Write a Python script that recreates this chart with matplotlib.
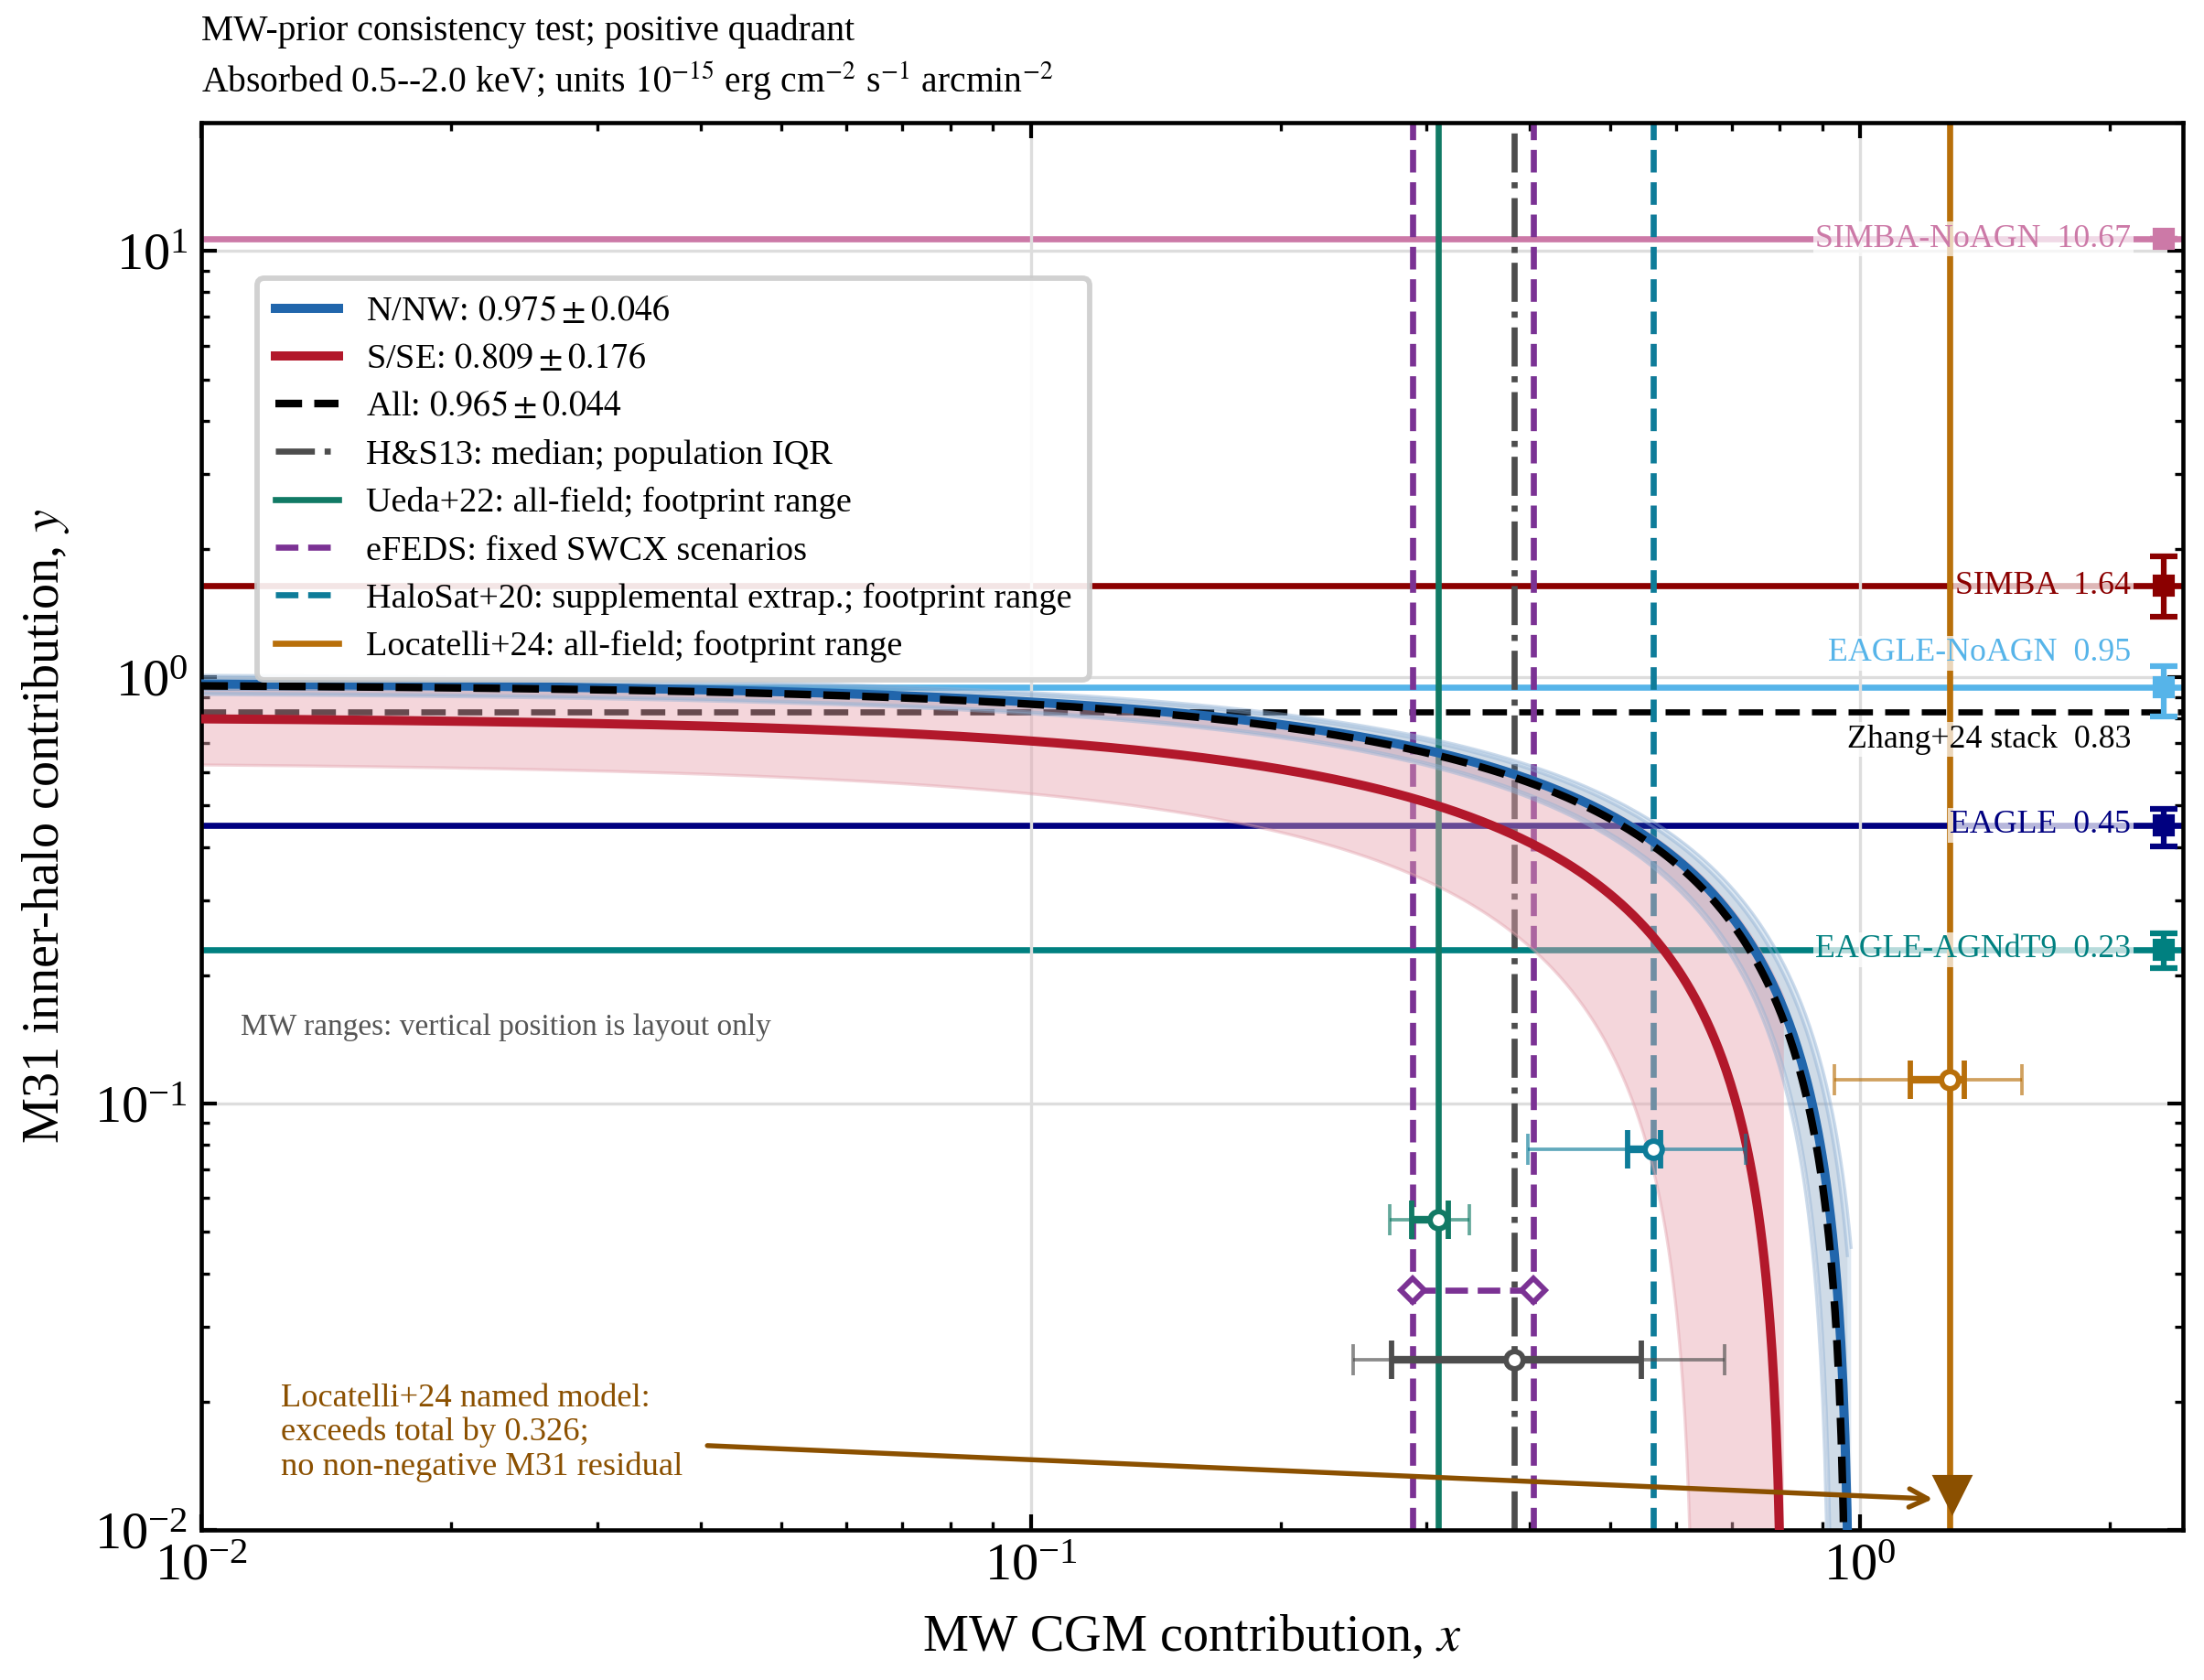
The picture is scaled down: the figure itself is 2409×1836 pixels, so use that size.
import numpy as np
import matplotlib
matplotlib.use("Agg")
import matplotlib.pyplot as plt

plt.rcParams['font.family'] = ['Liberation Serif', 'DejaVu Serif']
plt.rcParams['mathtext.fontset'] = 'stix'

# ---------------- data ----------------
# region totals (x + y = total), with 1-sigma
region_names = ['N/NW', 'S/SE', 'All']
region_total = [0.975, 0.809, 0.965]
region_sigma = [0.046, 0.176, 0.044]

# simulation predictions for the M31 inner halo (horizontal lines)
sim_names = ['SIMBA-NoAGN', 'SIMBA', 'EAGLE-NoAGN', 'Zhang+24 stack', 'EAGLE', 'EAGLE-AGNdT9']
sim_value = [10.67, 1.64, 0.95, 0.83, 0.45, 0.23]
sim_err_lo = [0.0, 0.25, 0.14, 0.0, 0.048, 0.022]
sim_err_hi = [0.0, 0.28, 0.11, 0.0, 0.042, 0.021]

# MW CGM priors: centre, inner range, outer range, plotting row
hs13_x, hs13_in, hs13_out, hs13_row = 0.383, (0.272, 0.545), (0.245, 0.687), 0.0251
ueda_x, ueda_in, ueda_out, ueda_row = 0.310, (0.288, 0.319), (0.271, 0.338), 0.0534
efeds_x, efeds_row = [0.289, 0.404], 0.0366
halosat_x, halosat_in, halosat_out, halosat_row = 0.563, (0.524, 0.574), (0.398, 0.727), 0.0782
locatelli_x, locatelli_in, locatelli_out, locatelli_row = 1.282, (1.15, 1.335), (0.93, 1.568), 0.114
locatelli_named = 1.29
locatelli_excess = 0.326

# ---------------- styles ----------------
region_colors = ['#2166ac', '#b2182b', 'black']
sim_colors = ['#cc79a7', '#8b0000', '#56b4e9', 'black', '#000080', '#008080']
label_shift = [1.0, 1.0, 1.2, 0.86, 1.0, 1.0]
c_hs, c_ueda, c_efeds, c_halo, c_loc = '#4d4d4d', '#117a65', '#7b3294', '#0e7c99', '#b86f0a'
c_note = '#8b5000'

fig = plt.figure(figsize=(2409 / 300, 1836 / 300), dpi=300)
ax = fig.add_axes([0.0913, 0.0893, 0.8992, 0.8377])
ax.set_xscale('log')
ax.set_yscale('log')
ax.set_xlim(0.01, 2.45)
ax.set_ylim(0.01, 20)

# --- simulation lines ---
x_mark = 2.32
x_lab = 2.12
for name, v, lo, hi, c, sh in zip(sim_names, sim_value, sim_err_lo, sim_err_hi, sim_colors, label_shift):
    if name.startswith('Zhang'):
        ax.axhline(v, color=c, lw=1.6, ls=(0, (4, 2)), zorder=1.6)
    else:
        ax.axhline(v, color=c, lw=1.6, zorder=1.5)
        ax.errorbar([x_mark], [v], yerr=[[lo], [hi]], fmt='s', color=c, ms=5,
                    capsize=3.5, elinewidth=1.5, capthick=1.5, zorder=3.5)
    ax.text(x_lab, v * sh, f'{name}  {v:.2f}', color=c, fontsize=8.6,
            ha='right', va='center', zorder=4,
            bbox=dict(facecolor='white', edgecolor='none', alpha=0.72, pad=0.6))

# --- region curves y = total - x ---
band_face = ['#2166ac', '#e7a5b0', '#5a6f8c']
band_alpha = [0.15, 0.45, 0.10]
band_edge = ['#8fb0d4', '#e3a3ae', '#8fb0d4']
lines = []
for name, T, s, c, fc, fa, ec in zip(region_names, region_total, region_sigma, region_colors,
                                     band_face, band_alpha, band_edge):
    xg = np.geomspace(0.01, T * 0.99999, 800)
    lo_edge = T - s - xg
    lower = np.clip(lo_edge, 1e-6, None)
    upper = T + s - xg
    ax.fill_between(xg, lower, upper, color=fc, alpha=fa, lw=0, zorder=2.2)
    ax.plot(xg, upper, color=ec, lw=0.8, alpha=0.45, zorder=2.3)
    ax.plot(xg[lo_edge > 0], lo_edge[lo_edge > 0], color=ec, lw=0.8, alpha=0.45, zorder=2.3)
    if name == 'All':
        ln, = ax.plot(xg, T - xg, color=c, lw=2.0, ls=(0, (3.5, 1.6)), zorder=3.2,
                      label=f'{name}: ${T:.3f}\\pm{s:.3f}$')
    else:
        ln, = ax.plot(xg, T - xg, color=c, lw=2.4, zorder=3.1,
                      label=f'{name}: ${T:.3f}\\pm{s:.3f}$')
    lines.append(ln)

# --- MW prior vertical lines and range markers ---
h1 = ax.axvline(hs13_x, color=c_hs, lw=1.6, ls='-.', zorder=2, label='H&S13: median; population IQR')
h2 = ax.axvline(ueda_x, color=c_ueda, lw=1.6, zorder=2, label='Ueda+22: all-field; footprint range')
h3 = ax.axvline(efeds_x[0], color=c_efeds, lw=1.6, ls='--', zorder=2, label='eFEDS: fixed SWCX scenarios')
ax.axvline(efeds_x[1], color=c_efeds, lw=1.6, ls='--', zorder=2)
h4 = ax.axvline(halosat_x, color=c_halo, lw=1.6, ls='--', zorder=2,
                label='HaloSat+20: supplemental extrap.; footprint range')
h5 = ax.axvline(locatelli_x, color=c_loc, lw=1.6, zorder=2, label='Locatelli+24: all-field; footprint range')

for xc, rin, rout, row, c in [(hs13_x, hs13_in, hs13_out, hs13_row, c_hs),
                              (ueda_x, ueda_in, ueda_out, ueda_row, c_ueda),
                              (halosat_x, halosat_in, halosat_out, halosat_row, c_halo),
                              (locatelli_x, locatelli_in, locatelli_out, locatelli_row, c_loc)]:
    ax.errorbar([xc], [row], xerr=[[xc - rout[0]], [rout[1] - xc]], fmt='none', ecolor=c,
                alpha=0.65, elinewidth=0.9, capsize=4, capthick=0.9, zorder=3.3)
    ax.errorbar([xc], [row], xerr=[[xc - rin[0]], [rin[1] - xc]], fmt='o', color=c, mfc='white',
                mec=c, mew=1.4, ms=4.5, elinewidth=2.0, capsize=5, capthick=1.4, zorder=3.4)

ax.plot(efeds_x, [efeds_row] * 2, color=c_efeds, lw=1.6, ls='--', marker='D', ms=4.5,
        mfc='white', mec=c_efeds, mew=1.4, zorder=3.4)

# Locatelli named model: off the total
ax.plot([locatelli_named], [0.0121], marker='v', color=c_note, ms=9, zorder=3.6)
ax.annotate('', xy=(1.25, 0.0118), xytext=(0.0399, 0.0158),
            arrowprops=dict(arrowstyle='->', color=c_note, lw=1.3, mutation_scale=12), zorder=3.6)
ax.text(0.01249, 0.0169,
        f'Locatelli+24 named model:\nexceeds total by {locatelli_excess:.3f};\nno non-negative M31 residual',
        color=c_note, fontsize=8.75, ha='left', va='center', linespacing=1.17)

ax.text(0.02, 0.357, 'MW ranges: vertical position is layout only', transform=ax.transAxes,
        color='#555555', fontsize=8.0, ha='left', va='center')

# --- axes cosmetics ---
ax.grid(True, which='major', color='#dddddd', lw=0.8, zorder=0)
ax.tick_params(which='both', direction='in', top=True, right=True, labelsize=14)
ax.tick_params(which='major', length=4, width=1.0)
ax.tick_params(which='minor', length=2.2, width=0.8)
for sp in ax.spines.values():
    sp.set_linewidth(1.1)

ax.set_xlabel('MW CGM contribution, $x$', fontsize=13.5, labelpad=6)
ax.set_ylabel('M31 inner-halo contribution, $y$', fontsize=13.5, labelpad=6)
ax.set_title('MW-prior consistency test; positive quadrant\n'
             'Absorbed 0.5--2.0 keV; units $10^{-15}$ erg cm$^{-2}$ s$^{-1}$ arcmin$^{-2}$',
             loc='left', fontsize=9.5, pad=8, linespacing=1.3)

leg = ax.legend(handles=lines + [h1, h2, h3, h4, h5], loc='upper left',
                bbox_to_anchor=(0.0195, 0.902), fontsize=9.2, frameon=True, fancybox=True,
                framealpha=0.9, edgecolor='#cccccc', handlelength=1.8, handletextpad=0.8,
                labelspacing=0.45, borderpad=0.5)
leg.get_frame().set_linewidth(1.4)
leg.set_zorder(5)

fig.savefig('out.png', dpi=300)
